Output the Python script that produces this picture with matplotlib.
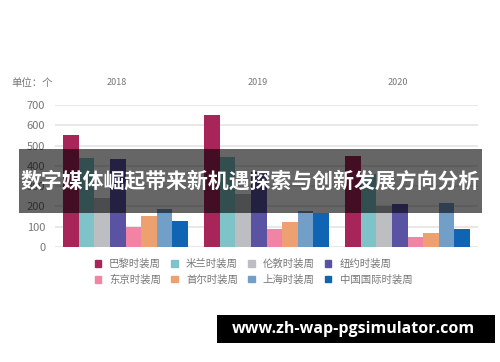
import matplotlib.pyplot as plt
from matplotlib.patches import Rectangle, Patch

plt.rcParams['font.family'] = ['Noto Sans CJK SC', 'DejaVu Sans']

years = ['2018', '2019', '2020']
weeks = ['巴黎时装周', '米兰时装周', '伦敦时装周', '纽约时装周',
         '东京时装周', '首尔时装周', '上海时装周', '中国国际时装周']
paris = [550, 650, 450]
milan = [440, 445, 360]
london = [240, 260, 200]
newyork = [435, 370, 210]
tokyo = [100, 90, 50]
seoul = [155, 125, 70]
shanghai = [185, 175, 215]
china = [130, 170, 90]
colors = ['#A8255A', '#7DC3C7', '#BDBEC2', '#5A52A3',
          '#F184A4', '#EDA070', '#719FC8', '#0F64B4']

series = [paris, milan, london, newyork, tokyo, seoul, shanghai, china]

fig = plt.figure(figsize=(5, 3.62), dpi=100)
ax = fig.add_axes([0.11, 0.3177, 0.846, 0.3923])

w = 0.11
for i, vals in enumerate(series):
    xs = [g + (i - 3.5) * w for g in range(len(years))]
    ax.bar(xs, vals, width=w, color=colors[i], zorder=2, linewidth=0)

ax.set_xlim(-0.5, 2.5)
ax.set_ylim(0, 700)
ax.set_yticks(range(0, 701, 100))
ax.yaxis.grid(True, color='#e6e6e6', linewidth=1.3, zorder=0)
ax.set_xticks([])
ax.tick_params(axis='y', length=0, labelsize=8, labelcolor='#777777', pad=7)
for s in ax.spines.values():
    s.set_visible(False)

for g, y in enumerate(years):
    ax.text(g - 0.065, 1.155, y, transform=ax.get_xaxis_transform(),
            ha='center', va='center', fontsize=6.5, color='#777777')
fig.text(0.022, 0.771, '单位：个', fontsize=7.5, color='#777777', va='center')

# legend, 2 rows x 4 cols, filled column-wise
order = [0, 4, 1, 5, 2, 6, 3, 7]
handles = [Patch(color=colors[k], label=weeks[k]) for k in order]
fig.legend(handles=handles, ncol=4, loc='center', bbox_to_anchor=(0.507, 0.249),
           frameon=False, fontsize=7.5, labelcolor='#777777',
           handlelength=0.6, handleheight=0.6, handletextpad=0.8,
           columnspacing=1.0, labelspacing=0.5)

# title banner
fig.add_artist(Rectangle((0.038, 0.412), 0.926, 0.177, transform=fig.transFigure,
                         facecolor='black', alpha=0.6, edgecolor='none', zorder=5))
fig.text(0.501, 0.5, '数字媒体崛起带来新机遇探索与创新发展方向分析', color='white',
         fontsize=15, fontweight='bold', ha='center', va='center', zorder=6)

# watermark
fig.add_artist(Rectangle((0.434, 0.052), 0.556, 0.077, transform=fig.transFigure,
                         facecolor='black', edgecolor='none', zorder=5))
fig.text(0.706, 0.091, 'www.zh-wap-pgsimulator.com', color='white',
         fontsize=11.5, fontweight='bold', ha='center', va='center', zorder=6,
         family='Open Sans')

fig.savefig('out.png', dpi=100)
